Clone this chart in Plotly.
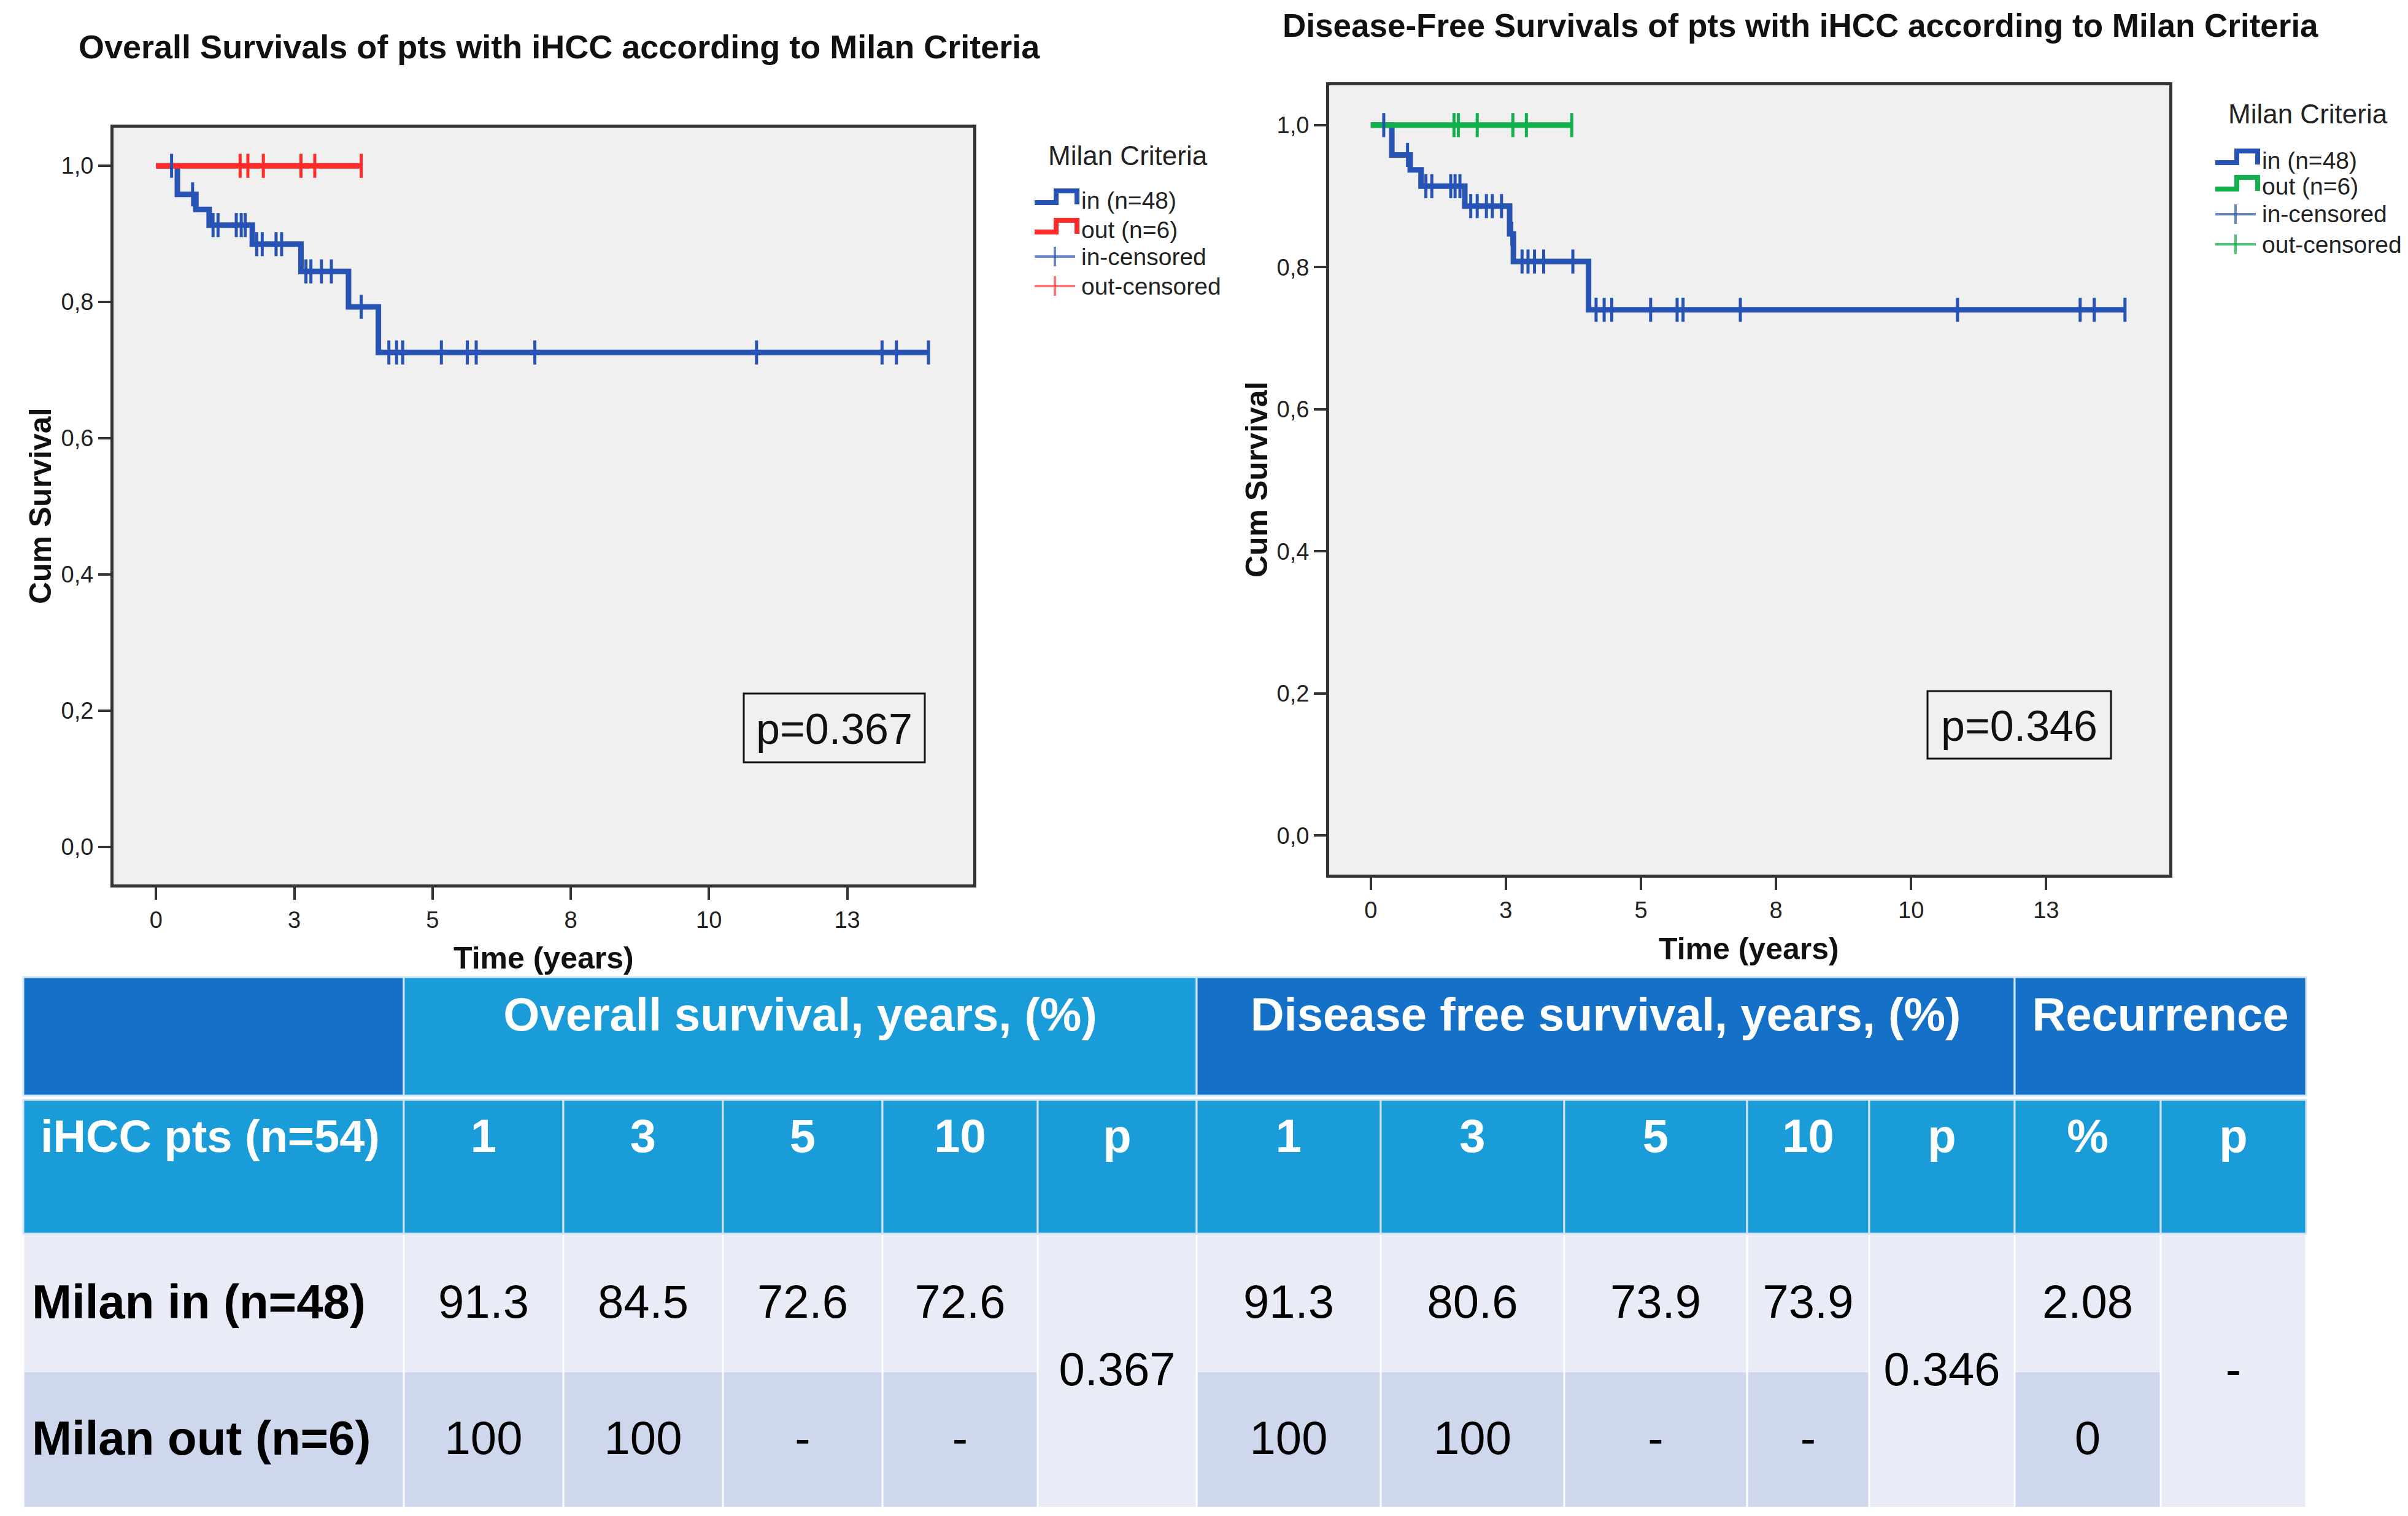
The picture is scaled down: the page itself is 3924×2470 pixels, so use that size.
import plotly.graph_objects as go

W, H = 3924, 2470

# ---------------- data ----------------
x_tick_vals = [0, 2.5, 5, 7.5, 10, 12.5]
x_tick_text = ["0", "3", "5", "8", "10", "13"]
y_tick_vals = [0.0, 0.2, 0.4, 0.6, 0.8, 1.0]
y_tick_text = ["0,0", "0,2", "0,4", "0,6", "0,8", "1,0"]

# Overall survival, Milan in
os_in_event_times = [0.385, 0.72, 0.96, 1.74, 2.62, 3.48, 4.02]
os_in_levels = [0.958, 0.936, 0.913, 0.885, 0.845, 0.793, 0.726]
os_in_censor_times = [0.28, 0.66, 1.03, 1.12, 1.45, 1.54, 1.61, 1.82, 1.92, 2.17, 2.27,
                      2.71, 2.80, 2.99, 3.17, 3.71, 4.21, 4.35, 4.46, 5.16, 5.63, 5.79,
                      6.85, 10.86, 13.13, 13.39, 13.97]
# Overall survival, Milan out
os_out_censor_times = [1.52, 1.66, 1.94, 2.62, 2.87, 3.71]

# Disease-free survival, Milan in
dfs_in_event_times = [0.39, 0.73, 0.93, 1.74, 2.57, 2.64, 4.03]
dfs_in_levels = [0.958, 0.937, 0.914, 0.886, 0.847, 0.808, 0.740]
dfs_in_censor_times = [0.24, 0.68, 1.02, 1.13, 1.48, 1.56, 1.65, 1.85, 1.97, 2.14, 2.25,
                       2.42, 2.61, 2.80, 2.91, 3.03, 3.20, 3.74, 4.17, 4.32, 4.46, 5.18,
                       5.67, 5.78, 6.84, 10.86, 13.13, 13.39, 13.96]
# Disease-free survival, Milan out
dfs_out_censor_times = [1.54, 1.62, 1.97, 2.63, 2.88, 3.72]

chart_titles = ["Overall Survivals of pts with iHCC according to Milan Criteria",
                "Disease-Free Survivals of pts with iHCC according to Milan Criteria"]
y_title = "Cum Survival"
x_title = "Time (years)"
p_labels = ["p=0.367", "p=0.346"]
legend_title = "Milan Criteria"
legend_labels = ["in (n=48)", "out (n=6)", "in-censored", "out-censored"]

# table
top_headers = ["", "Overall survival, years, (%)", "Disease free survival, years, (%)", "Recurrence"]
sub_headers = ["iHCC pts (n=54)", "1", "3", "5", "10", "p", "1", "3", "5", "10", "p", "%", "p"]
row_labels = ["Milan in (n=48)", "Milan out (n=6)"]
os_values = [["91.3", "84.5", "72.6", "72.6"], ["100", "100", "-", "-"]]
os_p = "0.367"
dfs_values = [["91.3", "80.6", "73.9", "73.9"], ["100", "100", "-", "-"]]
dfs_p = "0.346"
rec_values = ["2.08", "0"]
rec_p = "-"

# ---------------- styles ----------------
SANS = "Liberation Sans, Arial, sans-serif"
BLUE = "#2753B4"
RED = "#FF2B2B"
GREEN = "#12B04A"
AX = "#333333"
DARK_HDR = "#1570C8"
LIGHT_HDR = "#199CD8"
ROW1 = "#E9ECF6"
ROW2 = "#CFD7EC"


def px(x):
    return x / W


def py(y):
    return 1 - y / H


def surv_at(t, times, levels):
    s = 1.0
    for ti, li in zip(times, levels):
        if ti <= t:
            s = li
    return s


def step_trace(times, levels, end, color, xa, ya):
    xs = [0.0] + list(times) + [end]
    ys = [1.0] + list(levels) + [levels[-1] if levels else 1.0]
    return go.Scatter(x=xs, y=ys, mode="lines", xaxis=xa, yaxis=ya,
                      line=dict(color=color, width=9, shape="hv"),
                      showlegend=False, hoverinfo="skip")


def censor_trace(ctimes, times, levels, color, xa, ya):
    return go.Scatter(x=ctimes, y=[surv_at(t, times, levels) for t in ctimes],
                      mode="markers", xaxis=xa, yaxis=ya,
                      marker=dict(symbol="line-ns", size=28, color=color,
                                  line=dict(width=5, color=color)),
                      showlegend=False, hoverinfo="skip")


fig = go.Figure()

# left KM
fig.add_trace(step_trace(os_in_event_times, os_in_levels, max(os_in_censor_times), BLUE, "x", "y"))
fig.add_trace(step_trace([], [], max(os_out_censor_times), RED, "x", "y"))
fig.add_trace(censor_trace(os_in_censor_times, os_in_event_times, os_in_levels, BLUE, "x", "y"))
fig.add_trace(censor_trace(os_out_censor_times, [], [], RED, "x", "y"))
# right KM
fig.add_trace(step_trace(dfs_in_event_times, dfs_in_levels, max(dfs_in_censor_times), BLUE, "x2", "y2"))
fig.add_trace(step_trace([], [], max(dfs_out_censor_times), GREEN, "x2", "y2"))
fig.add_trace(censor_trace(dfs_in_censor_times, dfs_in_event_times, dfs_in_levels, BLUE, "x2", "y2"))
fig.add_trace(censor_trace(dfs_out_censor_times, [], [], GREEN, "x2", "y2"))

# ---------------- table ----------------
col_edges = [30, 650, 910, 1170, 1430, 1683, 1942, 2242, 2541, 2839, 3038, 3275, 3513, 3750]
hdr1_y = (1584, 1777)
hdr2_y = (1784, 2002)
row_y = [(2003, 2228), (2228, 2447)]
hdr1_text_y = 1652
hdr2_text_y = 1850
row_text_y = [2120, 2342]
merged_text_y = 2230

shapes = []
for xr, yr in [("x", "y"), ("x2", "y2")]:
    shapes.append(dict(type="rect", xref=xr + " domain", yref=yr + " domain",
                       x0=0, x1=1, y0=0, y1=1, fillcolor="#F0F0F0",
                       line=dict(width=0), layer="below"))


def cell(c0, c1, y0, y1, color, inset=1.5, line=None):
    d = dict(type="rect", xref="x3", yref="y3",
             x0=col_edges[c0] + inset, x1=col_edges[c1] - inset, y0=y0, y1=y1,
             fillcolor=color, line=dict(width=0), layer="below")
    if line:
        d["line"] = dict(width=3, color=line)
    return d


hdr_spans = [(0, 1), (1, 6), (6, 11), (11, 13)]
hdr_colors = [DARK_HDR, LIGHT_HDR, DARK_HDR, DARK_HDR]
for (c0, c1), colr in zip(hdr_spans, hdr_colors):
    shapes.append(cell(c0, c1, hdr1_y[0], hdr1_y[1], colr, inset=0, line="#D3E4F5"))
for c in range(13):
    shapes.append(cell(c, c + 1, hdr2_y[0], hdr2_y[1], LIGHT_HDR, inset=0, line="#D3E4F5"))

merged_cols = [5, 10, 12]
for r, (y0, y1) in enumerate(row_y):
    colr = ROW1 if r == 0 else ROW2
    for c in range(13):
        if c in merged_cols:
            continue
        shapes.append(cell(c, c + 1, y0, y1, colr))
for c in merged_cols:
    shapes.append(cell(c, c + 1, row_y[0][0], row_y[1][1], ROW1))


def cx(c0, c1):
    return (col_edges[c0] + col_edges[c1]) / 2


HDR_FONT = dict(family=SANS, size=76, color="white", weight="bold")
# header texts
hx, hy, ht = [], [], []
for (c0, c1), t in zip(hdr_spans, top_headers):
    if t:
        hx.append(cx(c0, c1)); hy.append(hdr1_text_y); ht.append(t)
for c in range(1, 13):
    hx.append(cx(c, c + 1)); hy.append(hdr2_text_y); ht.append(sub_headers[c])
fig.add_trace(go.Scatter(x=hx, y=hy, text=ht, mode="text", xaxis="x3", yaxis="y3",
                         textposition="middle center", textfont=HDR_FONT,
                         showlegend=False, hoverinfo="skip"))
fig.add_trace(go.Scatter(x=[58], y=[hdr2_text_y], text=[sub_headers[0]], mode="text",
                         xaxis="x3", yaxis="y3", textposition="middle right",
                         textfont=dict(family=SANS, size=74, color="white", weight="bold"),
                         showlegend=False, hoverinfo="skip"))
# row labels
fig.add_trace(go.Scatter(x=[44, 44], y=row_text_y, text=row_labels, mode="text",
                         xaxis="x3", yaxis="y3", textposition="middle right",
                         textfont=dict(family=SANS, size=78, color="black", weight="bold"),
                         showlegend=False, hoverinfo="skip"))
# values
vx, vy, vt = [], [], []
for r in range(2):
    for i in range(4):
        vx.append(cx(1 + i, 2 + i)); vy.append(row_text_y[r]); vt.append(os_values[r][i])
        vx.append(cx(6 + i, 7 + i)); vy.append(row_text_y[r]); vt.append(dfs_values[r][i])
    vx.append(cx(11, 12)); vy.append(row_text_y[r]); vt.append(rec_values[r])
for c, t in zip(merged_cols, [os_p, dfs_p, rec_p]):
    vx.append(cx(c, c + 1)); vy.append(merged_text_y); vt.append(t)
fig.add_trace(go.Scatter(x=vx, y=vy, text=vt, mode="text", xaxis="x3", yaxis="y3",
                         textposition="middle center",
                         textfont=dict(family=SANS, size=76, color="black"),
                         showlegend=False, hoverinfo="skip"))

# ---------------- annotations ----------------
ann = []
ann.append(dict(text="<b>%s</b>" % chart_titles[0], x=px(118), y=py(68), xref="paper", yref="paper",
                xanchor="left", yanchor="middle", showarrow=False,
                font=dict(family=SANS, size=54, color="#111")))
ann.append(dict(text="<b>%s</b>" % chart_titles[1], x=px(2080), y=py(34), xref="paper", yref="paper",
                xanchor="left", yanchor="middle", showarrow=False,
                font=dict(family=SANS, size=53, color="#111")))
for (xx, yy) in [(58, 816), (2040, 773)]:
    ann.append(dict(text="<b>%s</b>" % y_title, x=px(xx), y=py(yy), xref="paper", yref="paper",
                    textangle=-90, showarrow=False, xanchor="center", yanchor="middle",
                    font=dict(family=SANS, size=50, color="#111")))
for (xx, yy) in [(878, 1553), (2842, 1538)]:
    ann.append(dict(text="<b>%s</b>" % x_title, x=px(xx), y=py(yy), xref="paper", yref="paper",
                    showarrow=False, xanchor="center", yanchor="middle",
                    font=dict(family=SANS, size=50, color="#111")))

# p boxes
for (x0, x1, y0, y1), lab in zip([(1204, 1499, 1122, 1234), (3133, 3432, 1118, 1228)], p_labels):
    shapes.append(dict(type="rect", xref="paper", yref="paper", x0=px(x0), x1=px(x1),
                       y0=py(y1), y1=py(y0), line=dict(color="#111", width=3),
                       fillcolor="rgba(0,0,0,0)"))
    ann.append(dict(text=lab, x=px((x0 + x1) / 2), y=py((y0 + y1) / 2 + 2), xref="paper", yref="paper",
                    showarrow=False, xanchor="center", yanchor="middle",
                    font=dict(family=SANS, size=70, color="#111")))

# legends
legend_specs = [
    dict(title_xy=(1830, 246), item_y=[318, 366, 410, 458], sx=1678, colors=[BLUE, RED]),
    dict(title_xy=(3753, 177), item_y=[253, 296, 341, 390], sx=3602, colors=[BLUE, GREEN]),
]
light = {BLUE: "rgba(39,83,180,0.7)", RED: "rgba(255,43,43,0.65)", GREEN: "rgba(18,176,74,0.75)"}
for spec in legend_specs:
    tx, ty = spec["title_xy"]
    ann.append(dict(text=legend_title, x=px(tx), y=py(ty), xref="paper", yref="paper",
                    showarrow=False, xanchor="center", yanchor="middle",
                    font=dict(family=SANS, size=44, color="#222")))
    sx = spec["sx"]
    for k, (yc, lab) in enumerate(zip(spec["item_y"], legend_labels)):
        colr = spec["colors"][k % 2]
        if k < 2:
            path = "M %f,%f L %f,%f L %f,%f L %f,%f L %f,%f" % (
                px(sx), py(yc + 4), px(sx + 35), py(yc + 4), px(sx + 35), py(yc - 15),
                px(sx + 69), py(yc - 15), px(sx + 69), py(yc + 7))
            shapes.append(dict(type="path", xref="paper", yref="paper", path=path,
                               line=dict(color=colr, width=8)))
        else:
            shapes.append(dict(type="line", xref="paper", yref="paper", x0=px(sx), x1=px(sx + 66),
                               y0=py(yc), y1=py(yc), line=dict(color=light[colr], width=4)))
            shapes.append(dict(type="line", xref="paper", yref="paper", x0=px(sx + 33), x1=px(sx + 33),
                               y0=py(yc - 16), y1=py(yc + 16), line=dict(color=light[colr], width=4)))
        ann.append(dict(text=lab, x=px(sx + 74), y=py(yc), xref="paper", yref="paper",
                        showarrow=False, xanchor="left", yanchor="middle",
                        font=dict(family=SANS, size=39, color="#222")))

axis_x = dict(range=[-0.77, 14.78], tickvals=x_tick_vals, ticktext=x_tick_text,
              showgrid=False, zeroline=False, showline=True, mirror=True,
              linecolor=AX, linewidth=5, ticks="outside", ticklen=20, tickwidth=4,
              tickcolor=AX, tickfont=dict(family=SANS, size=38, color="#222"), fixedrange=True)
axis_y = dict(range=[-0.055, 1.056], tickvals=y_tick_vals, ticktext=y_tick_text,
              showgrid=False, zeroline=False, showline=True, mirror=True,
              linecolor=AX, linewidth=5, ticks="outside", ticklen=20, tickwidth=4,
              tickcolor=AX, tickfont=dict(family=SANS, size=38, color="#222"), fixedrange=True)

fig.update_layout(
    width=W, height=H, margin=dict(l=0, r=0, t=0, b=0),
    paper_bgcolor="white", plot_bgcolor="white", showlegend=False,
    xaxis=dict(axis_x, domain=[px(177), px(1578)], anchor="y"),
    yaxis=dict(axis_y, domain=[py(1433), py(200)], anchor="x"),
    xaxis2=dict(axis_x, domain=[px(2158), px(3527)], anchor="y2"),
    yaxis2=dict(axis_y, domain=[py(1417), py(131)], anchor="x2"),
    xaxis3=dict(domain=[0, 1], range=[0, W], visible=False, anchor="y3", fixedrange=True),
    yaxis3=dict(domain=[0, py(1560)], range=[H, 1560], visible=False, anchor="x3", fixedrange=True),
    shapes=shapes, annotations=ann,
)

fig.write_html("out.html")
